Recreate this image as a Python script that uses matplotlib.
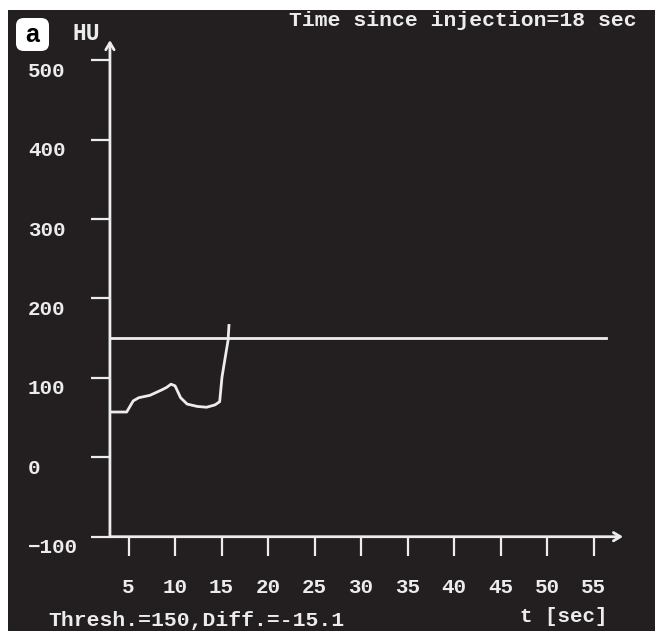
import matplotlib.pyplot as plt
from matplotlib.patches import Rectangle, FancyBboxPatch
from matplotlib.transforms import ScaledTranslation

# Werte
t_sec = [3.0, 4.8, 5.5, 6.1, 7.3, 8.6, 9.1, 9.56, 10.0, 10.6, 11.3, 12.4,
         13.4, 14.3, 14.8, 15.05, 15.4, 15.7, 15.8]
hu = [57, 57, 71, 75, 78, 85, 88, 92, 90, 75, 67, 64,
      63, 66, 70, 101, 126, 147, 166]
thresh_t = [3.0, 56.3]
thresh_hu = [150, 150]
x_ticks = [5, 10, 15, 20, 25, 30, 35, 40, 45, 50, 55]
y_ticks = [-100, 0, 100, 200, 300, 400, 500]

BG = '#231f20'
FG = '#ececec'
W, H = 655, 631

fig = plt.figure(figsize=(W / 100, H / 100), dpi=100, facecolor='white')
fig.patches.append(Rectangle((8 / W, 0), 1, (H - 10) / H, transform=fig.transFigure,
                             facecolor=BG, edgecolor='none', zorder=-10))

ax = fig.add_axes([109.94 / W, (H - 536.7) / H, 530.06 / W, 506.7 / H])
ax.set_zorder(2)
ax.set_facecolor('none')
ax.set_xlim(3, 60)
ax.set_ylim(-100, 538)
for s in ax.spines.values():
    s.set_visible(False)

ax.plot(t_sec, hu, color=FG, lw=2, solid_joinstyle='round')
ax.plot(thresh_t, thresh_hu, color=FG, lw=2)

# Achsen mit Pfeilen
arrow = dict(arrowstyle='->,head_length=0.5,head_width=0.3', color=FG, lw=2,
             shrinkA=0, shrinkB=0)
ax.annotate('', xy=(0, 0.98), xytext=(0, 0), xycoords='axes fraction',
            arrowprops=arrow, annotation_clip=False)
ax.annotate('', xy=(0.968, 0), xytext=(0, 0), xycoords='axes fraction',
            arrowprops=arrow, annotation_clip=False)

mono = 'Liberation Mono'
ax.set_xticks(x_ticks)
ax.set_yticks(y_ticks)
ax.tick_params(axis='both', direction='out', color=FG, width=1.6, labelcolor=FG,
               labelsize=15)
ax.tick_params(axis='y', length=13.7, pad=45.4)
ax.tick_params(axis='x', length=14, pad=16)
for lab in ax.get_xticklabels() + ax.get_yticklabels():
    lab.set_family(mono)
    lab.set_weight('bold')
off = ScaledTranslation(0, -0.09, fig.dpi_scale_trans)
for lab in ax.get_yticklabels():
    lab.set_ha('left')
    lab.set_transform(lab.get_transform() + off)

fig.text(289 / W, 1 - 20 / H, 'Time since injection=18 sec', color=FG, family=mono,
         weight='bold', fontsize=15.4, va='center', ha='left')
fig.text(72 / W, 1 - 34 / H, 'HU', color=FG, family=mono, weight='bold',
         fontsize=16.5, va='center', ha='left')
fig.text(520 / W, 1 - 617 / H, 't [sec]', color=FG, family=mono, weight='bold',
         fontsize=15, va='center', ha='left')
fig.text(48 / W, 1 - 620 / H, 'Thresh.=150,Diff.=-15.1', color=FG, family=mono,
         weight='bold', fontsize=15.4, va='center', ha='left')

# Panel-Buchstabe
fig.patches.append(FancyBboxPatch((16 / W, 1 - 51 / H), 33 / W, 33 / H,
                                  boxstyle='round,pad=0,rounding_size=0.012',
                                  transform=fig.transFigure, facecolor='white',
                                  edgecolor='none', zorder=1))
fig.text(32.5 / W, 1 - 35 / H, 'a', color='black', family='Liberation Sans',
         weight='bold', fontsize=18, va='center', ha='center', zorder=2)

fig.savefig('out.png', dpi=100, facecolor=fig.get_facecolor())
